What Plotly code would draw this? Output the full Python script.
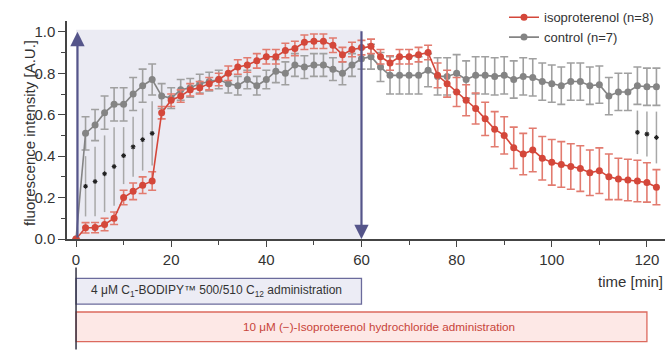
import plotly.graph_objects as go

# ---------------- data ----------------
time_min = list(range(0, 124, 2))

iso_mean = [0.0, 0.054, 0.055, 0.07, 0.10, 0.20, 0.23, 0.26, 0.28, 0.61,
            0.67, 0.69, 0.72, 0.73, 0.75, 0.77, 0.80, 0.83, 0.84, 0.86,
            0.88, 0.88, 0.91, 0.92, 0.95, 0.955, 0.955, 0.935, 0.89, 0.915,
            0.924, 0.93, 0.88, 0.85, 0.88, 0.88, 0.89, 0.90, 0.79, 0.75,
            0.71, 0.67, 0.63, 0.58, 0.53, 0.50, 0.44, 0.41, 0.43, 0.39,
            0.37, 0.36, 0.35, 0.34, 0.32, 0.33, 0.30, 0.29, 0.285, 0.28,
            0.273, 0.25]
iso_err = [0.0, 0.025, 0.025, 0.03, 0.03, 0.035, 0.04, 0.04, 0.045, 0.03,
           0.03, 0.03, 0.03, 0.03, 0.03, 0.03, 0.035, 0.035, 0.035, 0.035,
           0.035, 0.035, 0.035, 0.035, 0.035, 0.035, 0.035, 0.035, 0.035, 0.035,
           0.035, 0.035, 0.035, 0.035, 0.035, 0.035, 0.035, 0.035, 0.06, 0.065,
           0.07, 0.075, 0.075, 0.08, 0.085, 0.09, 0.10, 0.10, 0.105, 0.105,
           0.11, 0.11, 0.11, 0.11, 0.11, 0.11, 0.11, 0.10, 0.10, 0.10,
           0.095, 0.085]

ctrl_mean = [0.0, 0.51, 0.55, 0.61, 0.65, 0.65, 0.70, 0.74, 0.77, 0.69,
             0.68, 0.72, 0.73, 0.75, 0.76, 0.77, 0.75, 0.74, 0.77, 0.74,
             0.77, 0.81, 0.80, 0.84, 0.83, 0.84, 0.84, 0.82, 0.80, 0.84,
             0.87, 0.88, 0.83, 0.79, 0.79, 0.79, 0.79, 0.815, 0.785, 0.785,
             0.80, 0.77, 0.79, 0.79, 0.785, 0.79, 0.77, 0.785, 0.78, 0.76,
             0.75, 0.74, 0.76, 0.76, 0.74, 0.745, 0.69, 0.71, 0.71, 0.74,
             0.735, 0.735]
ctrl_err = [0.0, 0.08, 0.075, 0.08, 0.08, 0.08, 0.08, 0.08, 0.075, 0.06,
            0.05, 0.05, 0.045, 0.045, 0.045, 0.045, 0.045, 0.045, 0.045, 0.045,
            0.045, 0.055, 0.055, 0.055, 0.055, 0.055, 0.055, 0.055, 0.055, 0.055,
            0.05, 0.06, 0.07, 0.09, 0.09, 0.09, 0.09, 0.08, 0.09, 0.09,
            0.09, 0.09, 0.09, 0.09, 0.09, 0.09, 0.09, 0.09, 0.09, 0.09,
            0.09, 0.09, 0.09, 0.09, 0.09, 0.09, 0.09, 0.09, 0.09, 0.09,
            0.09, 0.09]

significant_times = [2, 4, 6, 8, 10, 12, 14, 16, 118, 120, 122]

y_ticks = [0.0, 0.2, 0.4, 0.6, 0.8, 1.0]
x_ticks = [0, 20, 40, 60, 80, 100, 120]

# ---------------- styling ----------------
RED = "#d4473a"
RED_ERR = "#e27b6f"
GRAY = "#848484"
GRAY_ERR = "#a0a0a0"
ARROW = "#55558a"
FONT = "Liberation Sans, Arial, sans-serif"

XMIN, XMAX = -1.9, 123.8
YMAX = 1.0524


def xp(t):
    return (t - XMIN) / (XMAX - XMIN)


def yp(py):
    return (239 - py) / 221.0


# significance connector lines and stars
sig_x, sig_y, star_x, star_y = [], [], [], []
for t in significant_times:
    i = time_min.index(t)
    lo = iso_mean[i] + iso_err[i] + 0.03
    hi = ctrl_mean[i] - ctrl_err[i] - 0.03
    sig_x += [t, t, None]
    sig_y += [lo, hi, None]
    star_x.append(t)
    star_y.append((lo + hi) / 2)

fig = go.Figure()

fig.add_trace(go.Scatter(x=sig_x, y=sig_y, mode="lines",
                         line=dict(color="#a8a8a8", width=1.5),
                         showlegend=False, hoverinfo="skip"))
fig.add_trace(go.Scatter(x=star_x, y=star_y, mode="markers",
                         marker=dict(symbol="asterisk-open", size=4, color="#222",
                                     line=dict(color="#222", width=1.1)),
                         showlegend=False, hoverinfo="skip"))

fig.add_trace(go.Scatter(
    x=time_min, y=ctrl_mean, mode="lines+markers", name="control (n=7)",
    line=dict(color=GRAY, width=1.6), marker=dict(color=GRAY, size=7),
    error_y=dict(type="data", array=ctrl_err, color=GRAY_ERR, thickness=1.6, width=4)))
fig.add_trace(go.Scatter(
    x=time_min, y=iso_mean, mode="lines+markers", name="isoproterenol (n=8)",
    line=dict(color=RED, width=1.6), marker=dict(color=RED, size=7),
    error_y=dict(type="data", array=iso_err, color=RED_ERR, thickness=1.6, width=4)))

shapes = [
    dict(type="rect", xref="x", yref="y", x0=0, x1=60, y0=0, y1=1.01,
         fillcolor="#ebebf3", line=dict(width=0), layer="below"),
    # administration boxes below the axis
    dict(type="rect", xref="paper", yref="paper", x0=xp(0), x1=xp(60),
         y0=yp(305), y1=yp(279), fillcolor="#ececf5",
         line=dict(color="#6b6b9c", width=1.3)),
    dict(type="rect", xref="paper", yref="paper", x0=xp(0), x1=xp(120),
         y0=yp(343), y1=yp(313), fillcolor="#fde8e6",
         line=dict(color="#dc6a5e", width=1.3)),
    dict(type="line", xref="paper", yref="paper", x0=xp(0), x1=xp(0),
         y0=yp(268), y1=yp(351), line=dict(color="#333344", width=1.5)),
]

annotations = [
    dict(x=0.3, y=1.0, ax=0.3, ay=0.0, xref="x", yref="y", axref="x", ayref="y",
         showarrow=True, arrowhead=2, arrowsize=1.3, arrowwidth=2.2,
         arrowcolor=ARROW, text=""),
    dict(x=60, y=0.0, ax=60, ay=1.01, xref="x", yref="y", axref="x", ayref="y",
         showarrow=True, arrowhead=2, arrowsize=1.3, arrowwidth=2.2,
         arrowcolor=ARROW, text=""),
    dict(text="fluorescence intensity [A.U.]", xref="paper", yref="paper",
         x=(19 - 67) / 598.0, y=yp(132), textangle=-90, showarrow=False,
         font=dict(size=15, color="#333", family=FONT)),
    dict(text="time [min]", xref="paper", yref="paper", x=1.0, y=yp(282),
         xanchor="right", yanchor="middle", showarrow=False,
         font=dict(size=15, color="#333", family=FONT)),
    dict(text="4 μM C<sub>1</sub>-BODIPY™ 500/510 C<sub>12</sub> administration",
         xref="paper", yref="paper", x=(89 - 67) / 598.0, y=yp(292),
         xanchor="left", yanchor="middle", showarrow=False,
         font=dict(size=12, color="#333", family=FONT)),
    dict(text="10 μM (−)-Isoproterenol hydrochloride administration",
         xref="paper", yref="paper", x=(379 - 67) / 598.0, y=yp(328),
         xanchor="center", yanchor="middle", showarrow=False,
         font=dict(size=11.7, color="#c8453a", family=FONT)),
]

fig.update_layout(
    width=667, height=351, autosize=False,
    margin=dict(l=67, r=2, t=18, b=112),
    plot_bgcolor="white", paper_bgcolor="white",
    font=dict(family=FONT, color="#333"),
    shapes=shapes, annotations=annotations,
    hovermode=False,
    legend=dict(x=(504 - 67) / 598.0, y=yp(-1), xanchor="left", yanchor="top",
                bgcolor="rgba(0,0,0,0)", font=dict(size=13, color="#333", family=FONT),
                traceorder="reversed", tracegroupgap=0, itemwidth=30),
    showlegend=True,
)

fig.update_xaxes(range=[XMIN, XMAX], tickvals=x_ticks, ticks="outside", ticklen=6,
                 tickwidth=1.3, tickcolor="#444", showline=True, linecolor="#444",
                 linewidth=1.5, showgrid=False, zeroline=False,
                 tickfont=dict(size=15, color="#333", family=FONT),
                 minor=dict(dtick=10, tick0=0, ticks="outside", ticklen=4,
                            tickcolor="#444", tickwidth=1.2))
fig.update_yaxes(range=[0, YMAX], tickvals=y_ticks, ticktext=["%.1f" % v for v in y_ticks],
                 ticks="outside", ticklen=7,
                 tickwidth=1.3, tickcolor="#444", showline=True, linecolor="#444",
                 linewidth=1.5, showgrid=False, zeroline=False,
                 tickfont=dict(size=15, color="#333", family=FONT),
                 minor=dict(dtick=0.1, tick0=0, ticks="outside", ticklen=4,
                            tickcolor="#444", tickwidth=1.2))

# remove the default page margin so the figure sits at the window's top-left corner
fig.write_html("out.html",
               config={"displayModeBar": False},
               post_script="document.body.style.margin='0';document.body.style.overflow='hidden';")
